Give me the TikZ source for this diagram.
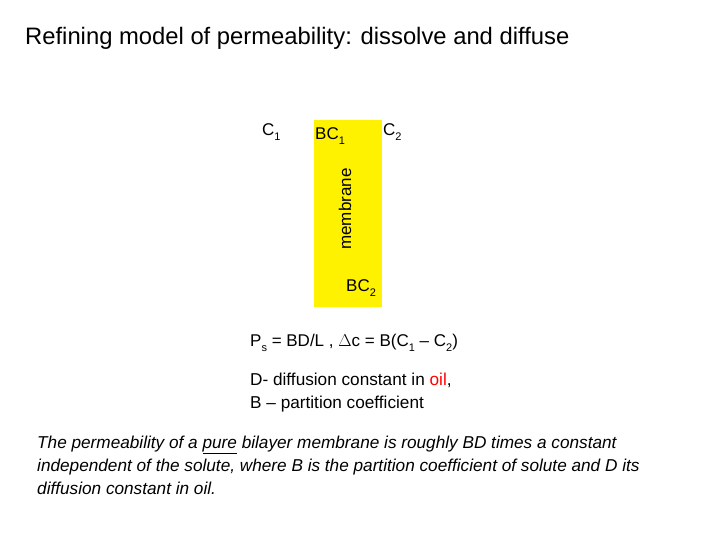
\documentclass[tikz,border=0pt]{standalone}
\usepackage{fontspec}
\setmainfont{Liberation Sans}
\newcommand{\sbs}[1]{\raisebox{-0.25em}{\fontsize{11}{12}\selectfont #1}}
\begin{document}
\begin{tikzpicture}[x=1pt,y=-1pt,
  lbl/.style={inner sep=0pt,anchor=west,font=\fontsize{17}{20}\selectfont},
  body/.style={inner sep=0pt,anchor=north west,align=left,font=\fontsize{17.2}{23}\selectfont}]
\useasboundingbox (0,0) rectangle (720,540);
\node[lbl,font=\fontsize{23.8}{27}\selectfont] (title) at (25,38) {Refining model of permeability: dissolve and diffuse};
\fill[yellow] (314,120) rectangle (382,307);
\node[lbl] (c1) at (262,132) {C\sbs{1}};
\node[lbl] (bc1) at (315,136) {BC\sbs{1}};
\node[lbl] (c2) at (383,132) {C\sbs{2}};
\node[lbl,rotate=90,anchor=center,font=\fontsize{17}{20}\selectfont] (mem) at (345,209) {membrane};
\node[lbl] (bc2) at (346,288) {BC\sbs{2}};
\node[lbl] (ps) at (250,343) {P\sbs{s} = BD/L , $\Delta$c = B(C\sbs{1} -- C\sbs{2})};
\node[body] (d) at (250,373) {D- diffusion constant in \textcolor{red}{oil},\\B -- partition coefficient};
\node[body,font=\itshape\fontsize{17.2}{23}\selectfont] (txt) at (37,436) {The permeability of a \underline{pure} bilayer membrane is roughly BD times a constant\\independent of the solute, where B is the partition coefficient of solute and D its\\diffusion constant in oil.};
\end{tikzpicture}
\end{document}
